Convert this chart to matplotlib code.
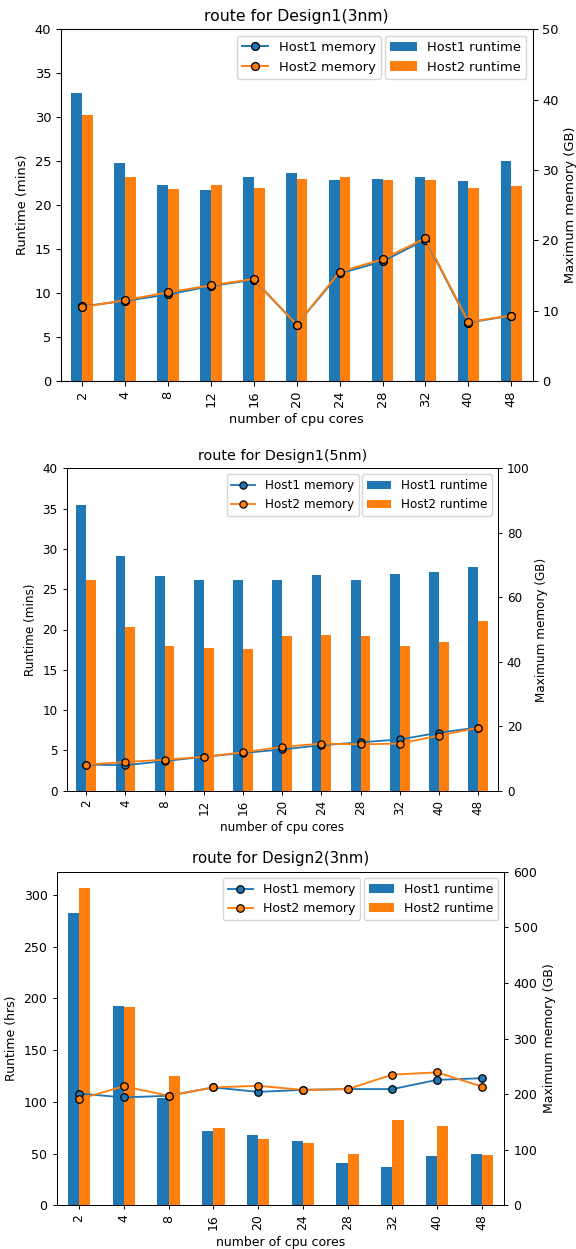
import matplotlib
matplotlib.use("Agg")
import matplotlib.pyplot as plt
import numpy as np

# Design1 (3nm) route results
d1_3nm_cores = ["2", "4", "8", "12", "16", "20", "24", "28", "32", "40", "48"]
d1_3nm_host1_runtime = [32.8, 24.8, 22.3, 21.7, 23.2, 23.7, 22.9, 23.0, 23.2, 22.7, 25.0]
d1_3nm_host2_runtime = [30.3, 23.2, 21.8, 22.3, 22.0, 23.0, 23.2, 22.9, 22.9, 21.9, 22.2]
d1_3nm_host1_memory = [10.6, 11.4, 12.3, 13.5, 14.4, 8.0, 15.3, 17.0, 20.1, 8.3, 9.3]
d1_3nm_host2_memory = [10.5, 11.5, 12.6, 13.6, 14.5, 8.0, 15.5, 17.3, 20.3, 8.4, 9.3]

# Design1 (5nm) route results
d1_5nm_cores = ["2", "4", "8", "12", "16", "20", "24", "28", "32", "40", "48"]
d1_5nm_host1_runtime = [35.5, 29.1, 26.6, 26.1, 26.1, 26.1, 26.7, 26.2, 26.9, 27.1, 27.8]
d1_5nm_host2_runtime = [26.2, 20.3, 18.0, 17.7, 17.6, 19.2, 19.3, 19.2, 18.0, 18.4, 21.1]
d1_5nm_host1_memory = [8.1, 7.9, 9.2, 10.5, 11.7, 12.8, 14.1, 15.0, 15.9, 18.0, 19.6]
d1_5nm_host2_memory = [8.1, 8.9, 9.6, 10.5, 11.9, 13.6, 14.6, 14.4, 14.6, 17.1, 19.5]

# Design2 (3nm) route results
d2_3nm_cores = ["2", "4", "8", "16", "20", "24", "28", "32", "40", "48"]
d2_3nm_host1_runtime = [283, 193, 104, 72, 67.5, 62.4, 40.8, 37, 47.6, 49.2]
d2_3nm_host2_runtime = [307.1, 191.6, 125, 74.6, 64, 60.5, 49.2, 82.3, 76.2, 48.6]
d2_3nm_host1_memory = [201, 194, 197, 212, 204, 207.6, 209, 209, 225.6, 228.6]
d2_3nm_host2_memory = [191, 214, 197, 212, 215, 207.6, 209, 235, 239, 213.6]


def plot_route(fig, rect, title, cores, h1_rt, h2_rt, h1_mem, h2_mem,
               ylabel, ylim, mem_ylim, scale=1.0):
    """
    Draw runtime bars with memory lines on a secondary axis.

    Parameters:
        fig: Figure to draw into.
        rect (list): Axes rectangle in figure coordinates.
        scale (float): Size factor for fonts, ticks and markers.
    """
    fs = 10 * scale
    ax = fig.add_axes(rect)
    x = np.arange(len(cores))
    width = 0.25

    b1 = ax.bar(x - width / 2, h1_rt, width, color="C0", label="Host1 runtime")
    b2 = ax.bar(x + width / 2, h2_rt, width, color="C1", label="Host2 runtime")
    ax.set_xlim(-0.5, len(cores) - 0.5)
    if ylim is not None:
        ax.set_ylim(*ylim)
    ax.set_xticks(x)
    ax.set_xticklabels(cores, rotation=90)
    ax.set_xlabel("number of cpu cores", fontsize=fs)
    ax.set_ylabel(ylabel, fontsize=fs)
    ax.set_title(title, fontsize=12 * scale)

    ax2 = ax.twinx()
    l1, = ax2.plot(x, h1_mem, color="C0", marker="o", markeredgecolor="k",
                   lw=1.5 * scale, ms=6 * scale, mew=scale, label="Host1 memory")
    l2, = ax2.plot(x, h2_mem, color="C1", marker="o", markeredgecolor="k",
                   lw=1.5 * scale, ms=6 * scale, mew=scale, label="Host2 memory")
    ax2.set_ylim(*mem_ylim)
    ax2.set_ylabel("Maximum memory (GB)", fontsize=fs)

    for a in (ax, ax2):
        a.tick_params(labelsize=fs, length=3.5 * scale, width=0.8 * scale)
        for sp in a.spines.values():
            sp.set_linewidth(0.8 * scale)

    leg_bars = ax2.legend(handles=[b1, b2], loc="upper right", fontsize=fs)
    ax2.add_artist(leg_bars)
    ax2.legend(handles=[l1, l2], loc="upper right", bbox_to_anchor=(0.692, 1.0),
               fontsize=fs)


def main():
    W, H = 576, 1249
    fig = plt.figure(figsize=(W / 100, H / 100), dpi=100)

    def rect(left, top, right, bottom):
        return [left / W, 1 - bottom / H, (right - left) / W, (bottom - top) / H]

    plot_route(fig, rect(60.7, 29.3, 532.7, 381.0), "route for Design1(3nm)",
               d1_3nm_cores, d1_3nm_host1_runtime, d1_3nm_host2_runtime,
               d1_3nm_host1_memory, d1_3nm_host2_memory,
               "Runtime (mins)", (0, 40), (0, 50), scale=0.94)

    plot_route(fig, rect(66.7, 468.3, 497.7, 790.7), "route for Design1(5nm)",
               d1_5nm_cores, d1_5nm_host1_runtime, d1_5nm_host2_runtime,
               d1_5nm_host1_memory, d1_5nm_host2_memory,
               "Runtime (mins)", (0, 40), (0, 100), scale=0.865)

    plot_route(fig, rect(56.7, 871.7, 504.3, 1205.3), "route for Design2(3nm)",
               d2_3nm_cores, d2_3nm_host1_runtime, d2_3nm_host2_runtime,
               d2_3nm_host1_memory, d2_3nm_host2_memory,
               "Runtime (hrs)", None, (0, 600), scale=0.9)

    fig.savefig("out.png", dpi=100)


if __name__ == '__main__':
    main()
